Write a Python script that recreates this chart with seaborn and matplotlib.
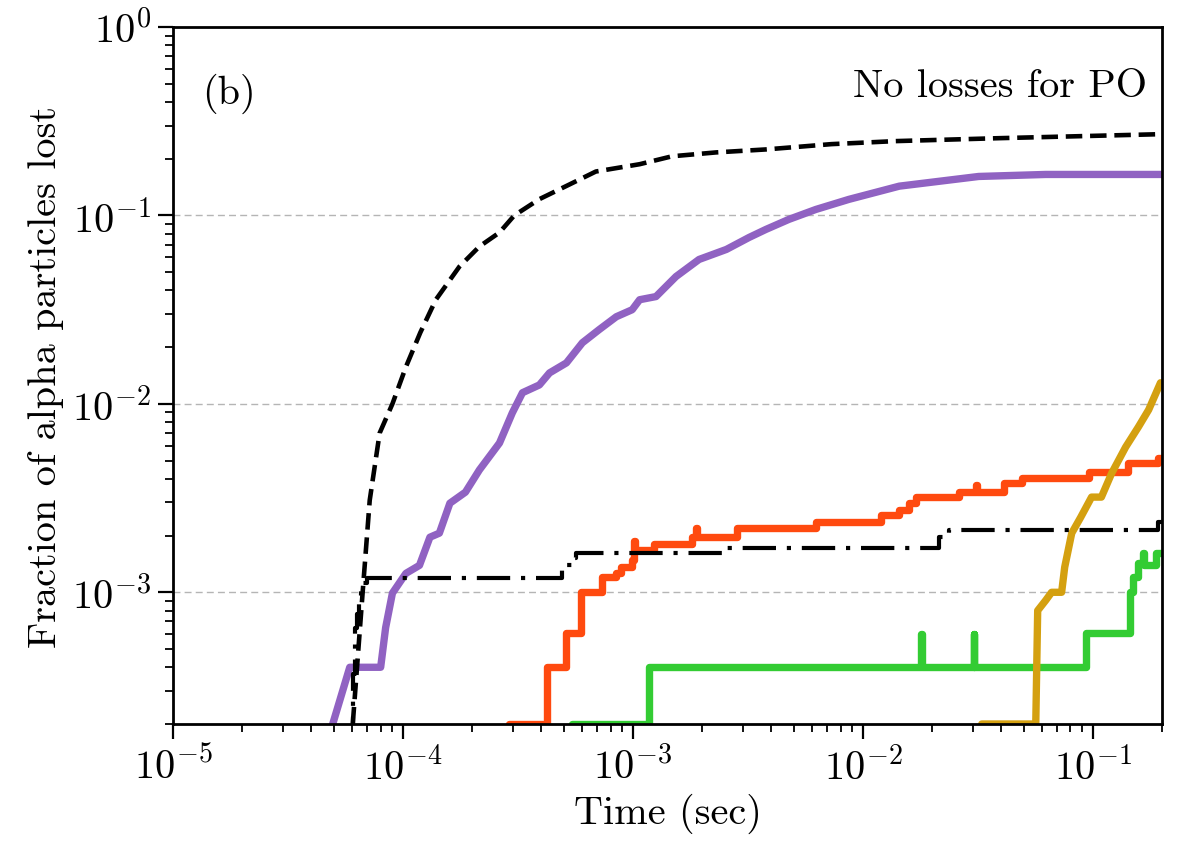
import numpy as np
import pandas as pd
import matplotlib
matplotlib.use("Agg")
import matplotlib.pyplot as plt
import seaborn as sns

# ---------------- data ----------------
dashed_t = [5.9e-5, 6.05e-5, 6.68e-5, 7.17e-5, 7.92e-5, 9.0e-5, 1.03e-4, 1.19e-4, 1.39e-4,
            1.76e-4, 2.15e-4, 2.63e-4, 3.05e-4, 3.92e-4, 5.3e-4, 6.9e-4, 1.07e-3, 1.48e-3,
            2.30e-3, 3.79e-3, 7.3e-3, 0.0139, 0.039, 0.2]
dashed_f = [1.5e-4, 2.0e-4, 1.0e-3, 3.08e-3, 7.0e-3, 1.0e-2, 0.0157, 0.0239, 0.0357,
            0.0535, 0.0684, 0.0812, 0.1, 0.122, 0.146, 0.171, 0.187, 0.206,
            0.216, 0.224, 0.239, 0.248, 0.257, 0.270]

purple_t = [4.8e-5, 4.95e-5, 5.87e-5, 8.0e-5, 8.41e-5, 9.0e-5, 1.03e-4, 1.18e-4, 1.31e-4,
            1.44e-4, 1.60e-4, 1.87e-4, 2.15e-4, 2.63e-4, 2.99e-4, 3.31e-4, 3.92e-4, 4.34e-4,
            5.14e-4, 6.03e-4, 7.14e-4, 8.47e-4, 9.93e-4, 1.07e-3, 1.26e-3, 1.54e-3, 1.94e-3,
            2.55e-3, 3.2e-3, 3.79e-3, 4.77e-3, 6.25e-3, 8.7e-3, 0.0144, 0.0319, 0.0624, 0.2]
purple_f = [1.7e-4, 2.0e-4, 4.0e-4, 4.0e-4, 6.5e-4, 9.9e-4, 1.26e-3, 1.39e-3, 1.96e-3,
            2.06e-3, 2.97e-3, 3.40e-3, 4.46e-3, 6.2e-3, 8.96e-3, 0.01146, 0.0126, 0.0146,
            0.0165, 0.0211, 0.0248, 0.0290, 0.0316, 0.0357, 0.0371, 0.0474, 0.0584,
            0.0660, 0.0764, 0.0843, 0.0953, 0.1076, 0.1217, 0.143, 0.161, 0.165, 0.165]

dashdot_t = [5.95e-5, 6.05e-5, 6.2e-5, 6.3e-5, 6.45e-5, 6.6e-5, 6.95e-5, 4.93e-4, 5.45e-4,
             5.68e-4, 2.55e-3, 0.0214, 0.0236, 0.193, 0.2]
dashdot_f = [1.5e-4, 3.7e-4, 6.5e-4, 7.7e-4, 9.4e-4, 1.12e-3, 1.19e-3, 1.39e-3, 1.52e-3,
             1.61e-3, 1.71e-3, 1.96e-3, 2.14e-3, 2.36e-3, 2.36e-3]

red_t = [2.9e-4, 4.25e-4, 5.14e-4, 5.97e-4, 7.36e-4, 8.47e-4, 8.9e-4, 9.93e-4, 1.01e-3,
         1.025e-3, 1.24e-3, 1.81e-3, 1.88e-3, 1.90e-3, 2.84e-3, 6.25e-3, 0.0120, 0.01436,
         0.01585, 0.0170, 0.0261, 0.0310, 0.0313, 0.0410, 0.0491, 0.0959, 0.143, 0.193, 0.2]
red_f = [2.0e-4, 4.0e-4, 6.05e-4, 1.0e-3, 1.2e-3, 1.26e-3, 1.36e-3, 1.48e-3, 1.87e-3,
         1.67e-3, 1.80e-3, 1.96e-3, 2.2e-3, 1.96e-3, 2.19e-3, 2.36e-3, 2.57e-3, 2.73e-3,
         2.97e-3, 3.2e-3, 3.40e-3, 3.71e-3, 3.40e-3, 3.80e-3, 4.04e-3, 4.35e-3, 4.86e-3,
         5.16e-3, 5.16e-3]

green_t = [5.46e-4, 1.18e-3, 0.01786, 0.0180, 0.0303, 0.0305, 0.0931, 0.1445, 0.150,
           0.158, 0.166, 0.1672, 0.1875, 0.2]
green_f = [2.0e-4, 4.0e-4, 6.0e-4, 4.0e-4, 6.0e-4, 4.0e-4, 6.05e-4, 1.0e-3, 1.2e-3,
           1.43e-3, 1.61e-3, 1.39e-3, 1.61e-3, 1.61e-3]

gold_t = [0.0329, 0.0565, 0.0576, 0.0624, 0.0662, 0.0732, 0.0755, 0.081, 0.0886, 0.0988,
          0.109, 0.121, 0.139, 0.158, 0.175, 0.197]
gold_f = [2.0e-4, 2.0e-4, 8.0e-4, 9.06e-4, 1.0e-3, 1.0e-3, 1.36e-3, 2.06e-3, 2.5e-3, 3.2e-3,
          3.2e-3, 4.3e-3, 5.9e-3, 7.55e-3, 9.3e-3, 0.01294]

x_ticks = [1e-5, 1e-4, 1e-3, 1e-2, 1e-1]
y_ticks = [1e-3, 1e-2, 1e-1, 1e0]

# ---------------- style ----------------
sns.set_theme(style="ticks")
plt.rcParams["font.family"] = ["cmr10", "DejaVu Serif"]
plt.rcParams["mathtext.fontset"] = "cm"
plt.rcParams["axes.formatter.use_mathtext"] = True
plt.rcParams["axes.unicode_minus"] = True
plt.rcParams["text.color"] = "black"
plt.rcParams["axes.labelcolor"] = "black"
plt.rcParams["xtick.color"] = "black"
plt.rcParams["ytick.color"] = "black"
plt.rcParams["axes.edgecolor"] = "black"

FS = 29

fig = plt.figure(figsize=(11.84, 8.54), dpi=100)
ax = fig.add_axes([173 / 1184, 1 - 725 / 854, 989 / 1184, 697 / 854])
ax.set_xscale("log")
ax.set_yscale("log")

common = dict(ax=ax, estimator=None, sort=False, legend=False)
LW = 5.3

sns.lineplot(x=purple_t, y=purple_f, color="#9062c2", linewidth=LW,
             solid_capstyle="round", solid_joinstyle="round", **common)
sns.lineplot(x=red_t, y=red_f, color="#ff4a0f", linewidth=LW, drawstyle="steps-post",
             solid_capstyle="round", solid_joinstyle="round", **common)
sns.lineplot(x=green_t, y=green_f, color="#33cc33", linewidth=LW, drawstyle="steps-post",
             solid_capstyle="round", solid_joinstyle="round", **common)
sns.lineplot(x=gold_t, y=gold_f, color="#d4a010", linewidth=LW,
             solid_capstyle="round", solid_joinstyle="round", **common)
sns.lineplot(x=dashed_t, y=dashed_f, color="black", linewidth=3.3, linestyle=(0, (3.6, 1.7)),
             **common)
sns.lineplot(x=dashdot_t, y=dashdot_f, color="black", linewidth=3.0, drawstyle="steps-post",
             linestyle=(0, (8, 2.6, 1, 2.6)), **common)

ax.set_xlim(1e-5, 0.2)
ax.set_ylim(2e-4, 1.0)
ax.set_xticks(x_ticks)
ax.set_yticks(y_ticks)

ax.yaxis.grid(True, which="major", linestyle=(0, (5, 3)), color="#b5b5b5", linewidth=1.0)
ax.xaxis.grid(False)
ax.yaxis.grid(False, which="minor")

for s in ax.spines.values():
    s.set_linewidth(2.0)
    s.set_color("black")

ax.tick_params(axis="both", which="major", direction="out", length=11, width=1.6,
               labelsize=FS, pad=5, colors="black")
ax.tick_params(axis="both", which="minor", direction="out", length=6, width=1.3, colors="black")

ax.set_xlabel("Time (sec)", fontsize=FS, labelpad=4, color="black")
ax.set_ylabel("Fraction of alpha particles lost", fontsize=FS, labelpad=6, color="black")

ax.text(0.029, 0.905, "(b)", transform=ax.transAxes, fontsize=FS, ha="left", va="center",
        color="black")
ax.text(0.985, 0.915, "No losses for PO", transform=ax.transAxes, fontsize=FS,
        ha="right", va="center", color="black")

fig.savefig("out.png", dpi=100)
